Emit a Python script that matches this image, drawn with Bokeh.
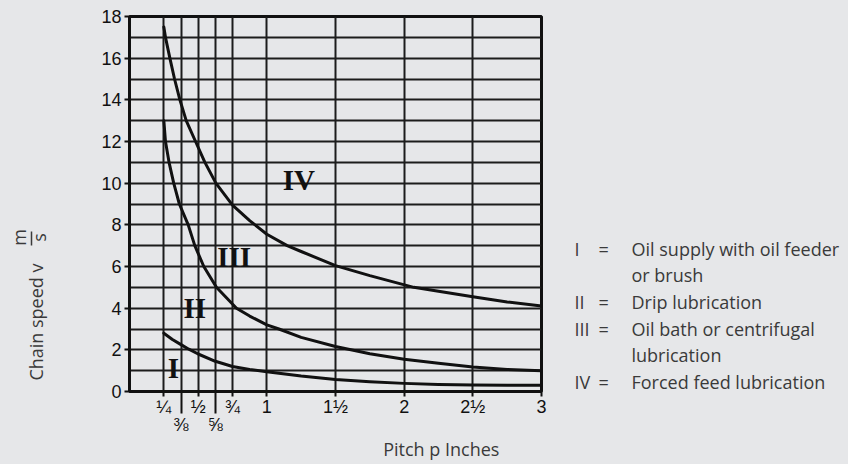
from bokeh.plotting import figure
from bokeh.layouts import row
from bokeh.models import Range1d, FixedTicker, LinearAxis, Title, ColumnDataSource
from bokeh.core.properties import value
from bokeh.embed import file_html
from bokeh.resources import INLINE

# ---------------- data ----------------
# boundary between zones III and IV
upper_x = [0.25, 0.262, 0.294, 0.328, 0.367, 0.413, 0.481, 0.549, 0.629, 0.75,
           0.875, 1.0, 1.148, 1.25, 1.5, 1.75, 2.07, 2.25, 2.5, 2.75, 3.0]
upper_v = [17.5, 17.0, 16.0, 15.0, 14.0, 13.0, 12.0, 11.0, 10.0, 8.95,
           8.2, 7.55, 7.0, 6.72, 6.04, 5.56, 5.0, 4.81, 4.55, 4.3, 4.1]
# boundary between zones II and III
middle_x = [0.25, 0.262, 0.288, 0.322, 0.363, 0.4275, 0.4756, 0.541, 0.633, 0.779,
            0.875, 1.0, 1.088, 1.25, 1.5, 1.75, 2.0, 2.25, 2.5, 2.75, 3.0]
middle_v = [13.0, 12.0, 11.0, 10.0, 9.0, 8.0, 7.0, 6.0, 5.0, 4.0,
            3.62, 3.2, 3.0, 2.6, 2.16, 1.81, 1.55, 1.36, 1.18, 1.06, 1.0]
# boundary between zones I and II
lower_x = [0.25, 0.3125, 0.375, 0.432, 0.5, 0.625, 0.75, 0.875, 1.0, 1.25,
           1.5, 1.75, 2.0, 2.25, 2.5, 2.75, 3.0]
lower_v = [2.8, 2.5, 2.25, 2.03, 1.8, 1.45, 1.2, 1.06, 0.95, 0.74,
           0.58, 0.47, 0.39, 0.34, 0.31, 0.3, 0.3]

zone_names = ["IV", "III", "II", "I"]
zone_x = [1.233, 0.762, 0.475, 0.319]
zone_v = [10.13, 6.45, 4.01, 1.13]

x_ticks_top = [0.25, 0.5, 0.75, 1.0, 1.5, 2.0, 2.5, 3.0]
x_labels_top = ["¼", "½", "¾", "1", "1½", "2", "2½", "3"]
x_ticks_low = [0.375, 0.625]
x_labels_low = ["⅜", "⅝"]
x_grid = [0.25, 0.375, 0.5, 0.625, 0.75, 1.0, 1.5, 2.0, 2.5, 3.0]
y_ticks = [0, 2, 4, 6, 8, 10, 12, 14, 16, 18]
y_grid = list(range(0, 19))

legend_keys = ["I", "", "II", "III", "", "IV"]
legend_eq = ["=", "", "=", "=", "", "="]
legend_text = ["Oil supply with oil feeder", "or brush", "Drip lubrication",
               "Oil bath or centrifugal", "lubrication", "Forced feed lubrication"]

x_title = "Pitch p Inches"
y_title = "Chain speed v"
y_unit_num = "m"
y_unit_den = "s"

# ---------------- styling ----------------
BG = "#e6e7e9"
INK = "#111111"
TXT = "#3a3a3a"
GRID = "#1c1c1c"
SANS = "Open Sans"
TICKFONT = "Liberation Sans"
H = 464
TOP, BOTTOM = 16, 73          # frame spans page y 16..391 in every figure of the row


def blank(width):
    # helper strip whose frame covers page y TOP..H-BOTTOM; data y = H - page y
    f = figure(width=width, height=H, x_range=Range1d(0, width),
               y_range=Range1d(BOTTOM, H - TOP),
               output_backend="svg", toolbar_location=None,
               min_border_left=0, min_border_right=0,
               min_border_top=TOP, min_border_bottom=BOTTOM,
               x_axis_type=None, y_axis_type=None,
               background_fill_color=BG, border_fill_color=BG, outline_line_color=None)
    f.grid.visible = False
    return f


# ---------------- left strip: y title (page x 0..60) ----------------
left = blank(60)
left.text(x=[35], y=[H - 263], text=[y_title], angle=[90], angle_units="deg",
          text_font=value(SANS), text_font_size="18px", text_color=TXT,
          text_align="right", text_baseline="alphabetic")
left.text(x=[18, 38], y=[H - 237, H - 237], text=[y_unit_num, y_unit_den],
          angle=[90, 90], angle_units="deg",
          text_font=value(SANS), text_font_size="18px", text_color=TXT,
          text_align="center", text_baseline="alphabetic")
left.segment(x0=[31], y0=[H - 231], x1=[31], y1=[H - 245], line_color=TXT, line_width=1.5)

# ---------------- main chart (page x 60..560, frame 129..541 / 16..391) ----------------
p = figure(frame_width=412, frame_height=375, x_range=Range1d(0, 3), y_range=Range1d(0, 18),
           output_backend="svg", toolbar_location=None,
           min_border_left=69, min_border_right=19, min_border_top=TOP, min_border_bottom=BOTTOM,
           background_fill_color=BG, border_fill_color=BG)

p.outline_line_color = INK
p.outline_line_width = 3
p.outline_line_alpha = 1

p.xgrid.ticker = FixedTicker(ticks=x_grid)
p.ygrid.ticker = FixedTicker(ticks=y_grid)
for g in (p.xgrid, p.ygrid):
    g.grid_line_color = GRID
    g.grid_line_width = 2
    g.grid_line_alpha = 1

xa = p.xaxis[0]
xa.ticker = FixedTicker(ticks=x_ticks_top, minor_ticks=x_ticks_low)
xa.major_label_overrides = {t: l for t, l in zip(x_ticks_top, x_labels_top)}
xa.major_tick_out = 5
xa.major_tick_in = 0
xa.minor_tick_out = 22
xa.minor_tick_in = 0
xa.major_tick_line_color = INK
xa.minor_tick_line_color = INK
xa.major_tick_line_width = 2
xa.minor_tick_line_width = 2
xa.axis_line_color = INK
xa.axis_line_width = 3
xa.major_label_standoff = -17
xa.major_label_text_font = TICKFONT
xa.major_label_text_font_size = "18px"
xa.major_label_text_color = INK

xa2 = LinearAxis(ticker=FixedTicker(ticks=x_ticks_low),
                 major_label_overrides={t: l for t, l in zip(x_ticks_low, x_labels_low)},
                 axis_line_color=None, major_tick_line_color=None, minor_tick_line_color=None,
                 major_tick_out=0, major_tick_in=0, minor_tick_out=0, minor_tick_in=0,
                 major_label_standoff=-5, major_label_text_font=TICKFONT,
                 major_label_text_font_size="18px", major_label_text_color=INK)
p.add_layout(xa2, "below")

p.add_layout(Title(text=x_title, align="left", offset=382.7 - 129, vertical_align="top",
                   standoff=-1, text_font=SANS, text_font_size="18px",
                   text_font_style="normal", text_color=TXT), "below")

ya = p.yaxis[0]
ya.ticker = FixedTicker(ticks=y_ticks)
ya.major_tick_out = 5
ya.major_tick_in = 0
ya.minor_tick_out = 0
ya.minor_tick_in = 0
ya.major_tick_line_color = INK
ya.major_tick_line_width = 2
ya.axis_line_color = INK
ya.axis_line_width = 3
ya.major_label_standoff = 3
ya.major_label_text_font = TICKFONT
ya.major_label_text_font_size = "18px"
ya.major_label_text_color = INK

for xs, vs in ((upper_x, upper_v), (middle_x, middle_v), (lower_x, lower_v)):
    p.line(xs, vs, line_color=INK, line_width=3, line_join="round", line_cap="round")

zsrc = ColumnDataSource(dict(x=zone_x, y=zone_v, t=zone_names))
p.text(x="x", y="y", text="t", source=zsrc, text_font=value("Liberation Serif"),
       text_font_style="bold", text_font_size="29px", text_color=INK,
       text_align="center", text_baseline="middle")

# ---------------- legend strip (page x 560..848) ----------------
leg = blank(288)
OX = 560
row_base = [248, 274.5, 301, 328, 354.5, 381]
lx, ly, lt = [], [], []
for k, e, t, yb in zip(legend_keys, legend_eq, legend_text, row_base):
    for txt, xp in ((k, 574), (e, 598), (t, 631)):
        if txt:
            lx.append(xp - OX)
            ly.append(H - yb)
            lt.append(txt)
leg.text(x=lx, y=ly, text=lt, text_font=value(SANS), text_font_size="18px",
         text_color=TXT, text_align="left", text_baseline="alphabetic")

layout = row(left, p, leg, spacing=0)

html = file_html(layout, INLINE, title="Chain speed vs pitch")
html = html.replace("<head>", "<head><style>body{background:%s;}</style>" % BG, 1)
open("out.html", "w").write(html)
